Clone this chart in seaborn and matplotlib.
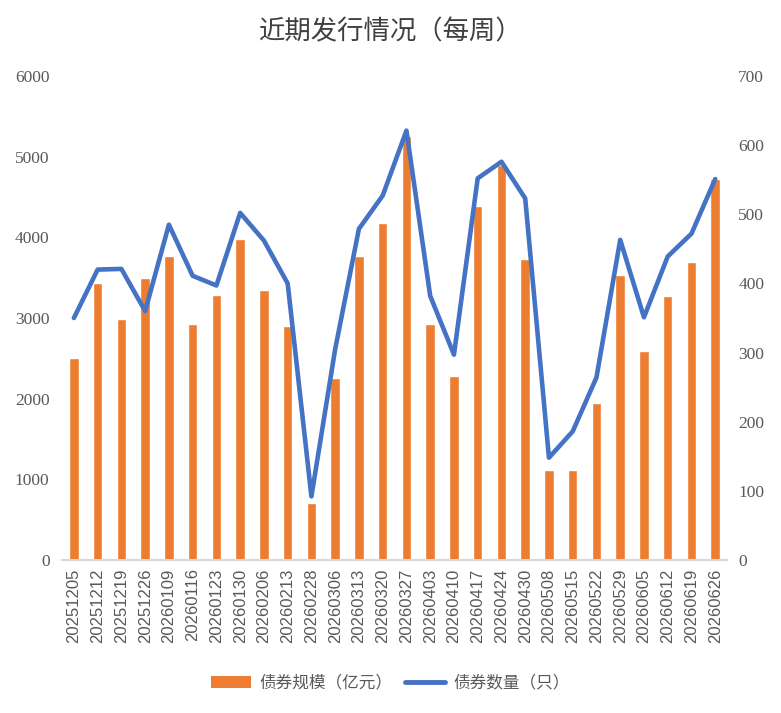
import numpy as np
import matplotlib
matplotlib.use("Agg")
import matplotlib.pyplot as plt
import seaborn as sns
from matplotlib.patches import Patch
from matplotlib.lines import Line2D

# weekly issuance data
dates = ['20251205', '20251212', '20251219', '20251226', '20260109', '20260116',
         '20260123', '20260130', '20260206', '20260213', '20260228', '20260306',
         '20260313', '20260320', '20260327', '20260403', '20260410', '20260417',
         '20260424', '20260430', '20260508', '20260515', '20260522', '20260529',
         '20260605', '20260612', '20260619', '20260626']
scale = [2500, 3440, 2990, 3490, 3770, 2930, 3280, 3980, 3350, 2900, 710, 2260,
         3770, 4180, 5260, 2930, 2280, 4390, 4900, 3730, 1115, 1115, 1950, 3530,
         2590, 3270, 3690, 4720]
counts = [350, 420, 421, 360, 485, 411, 397, 502, 462, 400, 92, 305,
          479, 527, 621, 382, 297, 552, 576, 523, 148, 186, 264, 463,
          351, 439, 472, 551]

left_ticks = [0, 1000, 2000, 3000, 4000, 5000, 6000]
right_ticks = [0, 100, 200, 300, 400, 500, 600, 700]

title = '近期发行情况（每周）'
bar_label = '债券规模（亿元）'
line_label = '债券数量（只）'

orange = '#ED7D31'
blue = '#4472C4'
grey = '#595959'

sns.set_style('white')
plt.rcParams['font.family'] = ['Noto Sans CJK SC', 'DejaVu Sans']

fig = plt.figure(figsize=(7.81, 7.13), dpi=100)
ax = fig.add_axes([0.0794, 0.2146, 0.8516, 0.6788])

sns.barplot(x=dates, y=scale, ax=ax, color=orange, width=0.4, saturation=1)
ax.set_xlim(-0.5, len(dates) - 0.5)
ax.set_ylim(0, 6000)
ax.set_yticks(left_ticks)

ax2 = ax.twinx()
sns.lineplot(x=np.arange(len(dates)), y=counts, ax=ax2, color=blue, linewidth=3.3)
ax2.set_ylim(0, 700)
ax2.set_yticks(right_ticks)
ax.set_xlim(-0.5, len(dates) - 0.5)

for a in (ax, ax2):
    for s in a.spines.values():
        s.set_visible(False)
    a.set_xlabel('')
    a.set_ylabel('')
    a.tick_params(length=0)
ax.spines['bottom'].set_visible(True)
ax.spines['bottom'].set_color('#d9d9d9')
ax.spines['bottom'].set_linewidth(1.5)

ax.tick_params(axis='x', pad=6, labelrotation=90)
ax.tick_params(axis='y', pad=9)
ax2.tick_params(axis='y', pad=8)
for lab in ax.get_xticklabels():
    lab.set_fontfamily('Liberation Sans')
    lab.set_fontsize(12)
    lab.set_color(grey)
for lab in ax.get_yticklabels() + ax2.get_yticklabels():
    lab.set_fontfamily('Liberation Serif')
    lab.set_fontsize(12.5)
    lab.set_color(grey)

fig.text(0.5, 0.955, title, ha='center', va='center', fontsize=19, color='#404040')

handles = [Patch(facecolor=orange, edgecolor='none'),
           Line2D([0], [0], color=blue, linewidth=3.5)]
fig.legend(handles, [bar_label, line_label], loc='center', bbox_to_anchor=(0.5, 0.042),
           ncol=2, frameon=False, fontsize=12, labelcolor=grey,
           handlelength=2.4, handletextpad=0.5, columnspacing=0.8)

fig.savefig('out.png', dpi=100)
